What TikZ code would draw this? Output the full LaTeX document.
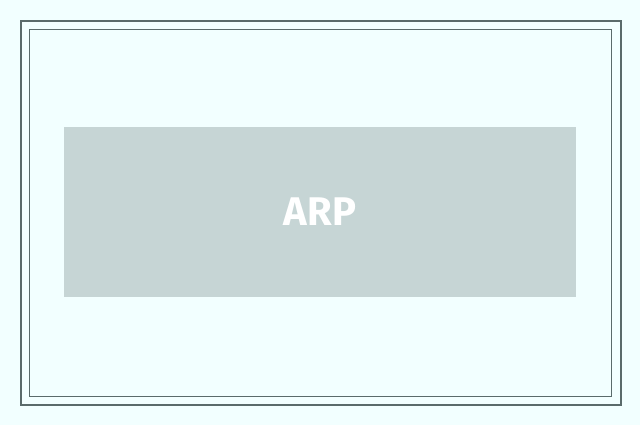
\documentclass[tikz,border=0pt]{standalone}
\usepackage{fontspec}
\setmainfont{Fira Sans}
\definecolor{bgc}{HTML}{F2FFFF}
\definecolor{framec}{HTML}{5A6B6B}
\definecolor{boxc}{HTML}{C6D5D5}
\begin{document}
\begin{tikzpicture}[x=1pt,y=-1pt,
  outerframe/.style={draw=framec,line width=2pt},
  innerframe/.style={draw=framec,line width=1pt},
  titlebox/.style={fill=boxc,draw=none,minimum width=512pt,minimum height=170pt,inner sep=0pt,
    font=\fontsize{40}{40}\selectfont\bfseries,text=white}]
\useasboundingbox[fill=bgc] (0,0) rectangle (640,425);
\draw[outerframe] (21,21) rectangle (621,405);
\draw[innerframe] (29.5,29.5) rectangle (611.5,396.5);
\node[titlebox] (arp) at (320,212) {ARP};
\end{tikzpicture}
\end{document}
